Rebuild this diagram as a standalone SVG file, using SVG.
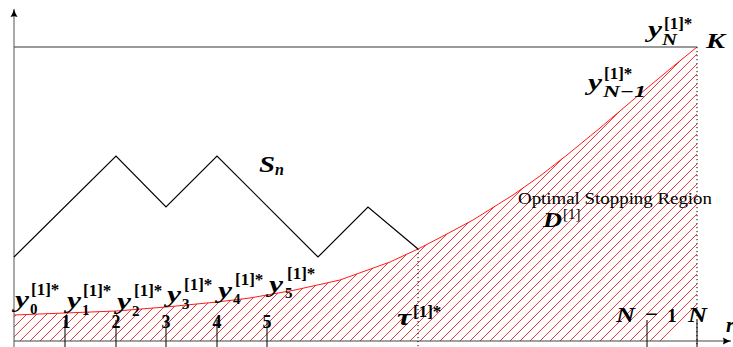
<svg xmlns="http://www.w3.org/2000/svg" width="733" height="347" viewBox="0 0 733 347">
<style>
text{font-family:"Liberation Serif","Times New Roman","DejaVu Serif",serif;fill:#000}
.m{font-weight:bold;font-style:italic;font-size:23px}
.big{font-weight:bold;font-style:italic;font-size:23px}
.cap{font-weight:bold;font-style:italic;font-size:21px}
.sup{font-weight:bold;font-size:17px}
.sub{font-weight:bold;font-size:15px}
.subi{font-weight:bold;font-style:italic;font-size:16px}
.tk{font-weight:bold;font-size:18px;text-anchor:middle}
.lbl{font-size:16px}
.dot{stroke:#000;stroke-width:1;stroke-dasharray:1.2 2.8;fill:none}
.tick{stroke:#000;stroke-width:1;fill:none}
.hatch{stroke:#ff0000;stroke-width:0.8;fill:none}
</style>
<defs>
<clipPath id="reg">
<path d="M14,315 L65,313 L116,311 L166,307 L217,302 L250,298 L295,290 L340,280 L390,262 L418,249 L445,235 L473,220 L513,195 L540,176 L567,155 L600,128 L640,94 L670,69 L697,47 L697,341 L14,341 Z"/>
</clipPath>
<marker id="arr" markerWidth="10" markerHeight="10" refX="8" refY="5" orient="auto" markerUnits="userSpaceOnUse">
<path d="M0,1.5 Q4,4 8,5 Q4,6 0,8.5 Q1.5,5 0,1.5 Z" fill="#000"/>
</marker>
</defs>
<g id="region">
<path class="hatch" clip-path="url(#reg)" d="M-280 341l294-294m-284 294l294-294m-284 294l294-294m-284 294l294-294m-284 294l294-294m-284 294l294-294m-284 294l294-294m-284 294l294-294m-284 294l294-294m-284 294l294-294m-284 294l294-294m-284 294l294-294m-284 294l294-294m-284 294l294-294m-284 294l294-294m-284 294l294-294m-284 294l294-294m-284 294l294-294m-284 294l294-294m-284 294l294-294m-284 294l294-294m-284 294l294-294m-284 294l294-294m-284 294l294-294m-284 294l294-294m-284 294l294-294m-284 294l294-294m-284 294l294-294m-284 294l294-294m-284 294l294-294m-284 294l294-294m-284 294l294-294m-284 294l294-294m-284 294l294-294m-284 294l294-294m-284 294l294-294m-284 294l294-294m-284 294l294-294m-284 294l294-294m-284 294l294-294m-284 294l294-294m-284 294l294-294m-284 294l294-294m-284 294l294-294m-284 294l294-294m-284 294l294-294m-284 294l294-294m-284 294l294-294m-284 294l294-294m-284 294l294-294m-284 294l294-294m-284 294l294-294m-284 294l294-294m-284 294l294-294m-284 294l294-294m-284 294l294-294m-284 294l294-294m-284 294l294-294m-284 294l294-294m-284 294l294-294m-284 294l294-294m-284 294l294-294m-284 294l294-294m-284 294l294-294m-284 294l294-294m-284 294l294-294m-284 294l294-294m-284 294l294-294m-284 294l294-294m-284 294l294-294m-284 294l294-294m-284 294l294-294m-284 294l294-294m-284 294l294-294m-284 294l294-294m-284 294l294-294m-284 294l294-294m-284 294l294-294m-284 294l294-294m-284 294l294-294m-284 294l294-294m-284 294l294-294m-284 294l294-294m-284 294l294-294m-284 294l294-294m-284 294l294-294m-284 294l294-294m-284 294l294-294m-284 294l294-294m-284 294l294-294m-284 294l294-294m-284 294l294-294m-284 294l294-294m-284 294l294-294m-284 294l294-294"/>
<polyline points="14,315 65,313 116,311 166,307 217,302 250,298 295,290 340,280 390,262 418,249 445,235 473,220 513,195 540,176 567,155 600,128 640,94 670,69 697,47" fill="none" stroke="#ff0000" stroke-width="0.9"/>
</g>
<g id="connectors">
<line x1="14" y1="47" x2="697" y2="47" stroke="#777" stroke-width="1.4"/>
<line x1="14" y1="347" x2="14" y2="9" stroke="#555" stroke-width="1" marker-end="url(#arr)"/>
<line x1="14" y1="341" x2="731" y2="341" stroke="#444" stroke-width="1" marker-end="url(#arr)"/>
<line class="dot" x1="418" y1="249" x2="418" y2="347"/>
<line class="dot" x1="697" y1="47" x2="697" y2="347"/>
<line class="tick" x1="65" y1="320" x2="65" y2="347"/>
<line class="tick" x1="116" y1="320" x2="116" y2="347"/>
<line class="tick" x1="166" y1="320" x2="166" y2="347"/>
<line class="tick" x1="217" y1="320" x2="217" y2="347"/>
<line class="tick" x1="267" y1="320" x2="267" y2="347"/>
<line class="tick" x1="647" y1="320" x2="647" y2="347"/>
<line class="tick" x1="697" y1="320" x2="697" y2="347"/>
<polyline points="14,257 116,156 166,207 217,156 318,257 368,207 418,249" fill="none" stroke="#000" stroke-width="1.2"/>
</g>
<g id="labels">
<text class="big" x="259" y="172" textLength="16" lengthAdjust="spacingAndGlyphs">S</text><text class="subi" x="275" y="175">n</text>
<text class="m" x="15" y="307" textLength="14" lengthAdjust="spacingAndGlyphs">y</text><text class="sub" x="30" y="314">0</text><text class="sup" x="31" y="295">[1]*</text>
<text class="m" x="67" y="308" textLength="14" lengthAdjust="spacingAndGlyphs">y</text><text class="sub" x="82" y="315">1</text><text class="sup" x="83" y="296">[1]*</text>
<text class="m" x="117" y="309" textLength="14" lengthAdjust="spacingAndGlyphs">y</text><text class="sub" x="132" y="316">2</text><text class="sup" x="134" y="296">[1]*</text>
<text class="m" x="167" y="302" textLength="14" lengthAdjust="spacingAndGlyphs">y</text><text class="sub" x="182" y="309">3</text><text class="sup" x="184" y="290">[1]*</text>
<text class="m" x="218" y="298" textLength="14" lengthAdjust="spacingAndGlyphs">y</text><text class="sub" x="233" y="304">4</text><text class="sup" x="235" y="285">[1]*</text>
<text class="m" x="269" y="292" textLength="14" lengthAdjust="spacingAndGlyphs">y</text><text class="sub" x="285" y="298">5</text><text class="sup" x="287" y="279">[1]*</text>
<text class="tk" x="66" y="328">1</text>
<text class="tk" x="116" y="328">2</text>
<text class="tk" x="166" y="328">3</text>
<text class="tk" x="217" y="328">4</text>
<text class="tk" x="267" y="328">5</text>
<text class="m" x="397" y="325" textLength="14" lengthAdjust="spacingAndGlyphs">τ</text><text class="sup" x="413" y="317">[1]*</text>
<text class="cap" x="616" y="322" textLength="19" lengthAdjust="spacingAndGlyphs">N</text><text class="tk" x="645" y="321" style="text-anchor:start;font-size:21px" textLength="13" lengthAdjust="spacingAndGlyphs">−</text><text class="tk" x="672" y="322" style="font-size:19px">1</text>
<text class="cap" x="688" y="322" textLength="19" lengthAdjust="spacingAndGlyphs">N</text>
<text class="cap" x="726" y="332">r</text>
<text class="cap" x="706" y="48" textLength="19" lengthAdjust="spacingAndGlyphs">K</text>
<text class="m" x="648" y="37" textLength="14" lengthAdjust="spacingAndGlyphs">y</text><text class="subi" x="662" y="45" textLength="15" lengthAdjust="spacingAndGlyphs">N</text><text class="sup" x="664" y="29">[1]*</text>
<text class="m" x="588" y="90" textLength="14" lengthAdjust="spacingAndGlyphs">y</text><text class="subi" x="603" y="97" textLength="43" lengthAdjust="spacingAndGlyphs">N−1</text><text class="sup" x="604" y="79">[1]*</text>
<text class="lbl" x="518" y="204" textLength="194" lengthAdjust="spacingAndGlyphs">Optimal Stopping Region</text>
<text class="cap" x="543" y="227" textLength="19" lengthAdjust="spacingAndGlyphs">D</text><text class="sup" x="563" y="219" style="font-weight:normal;font-size:15px">[1]</text>
</g>
</svg>
